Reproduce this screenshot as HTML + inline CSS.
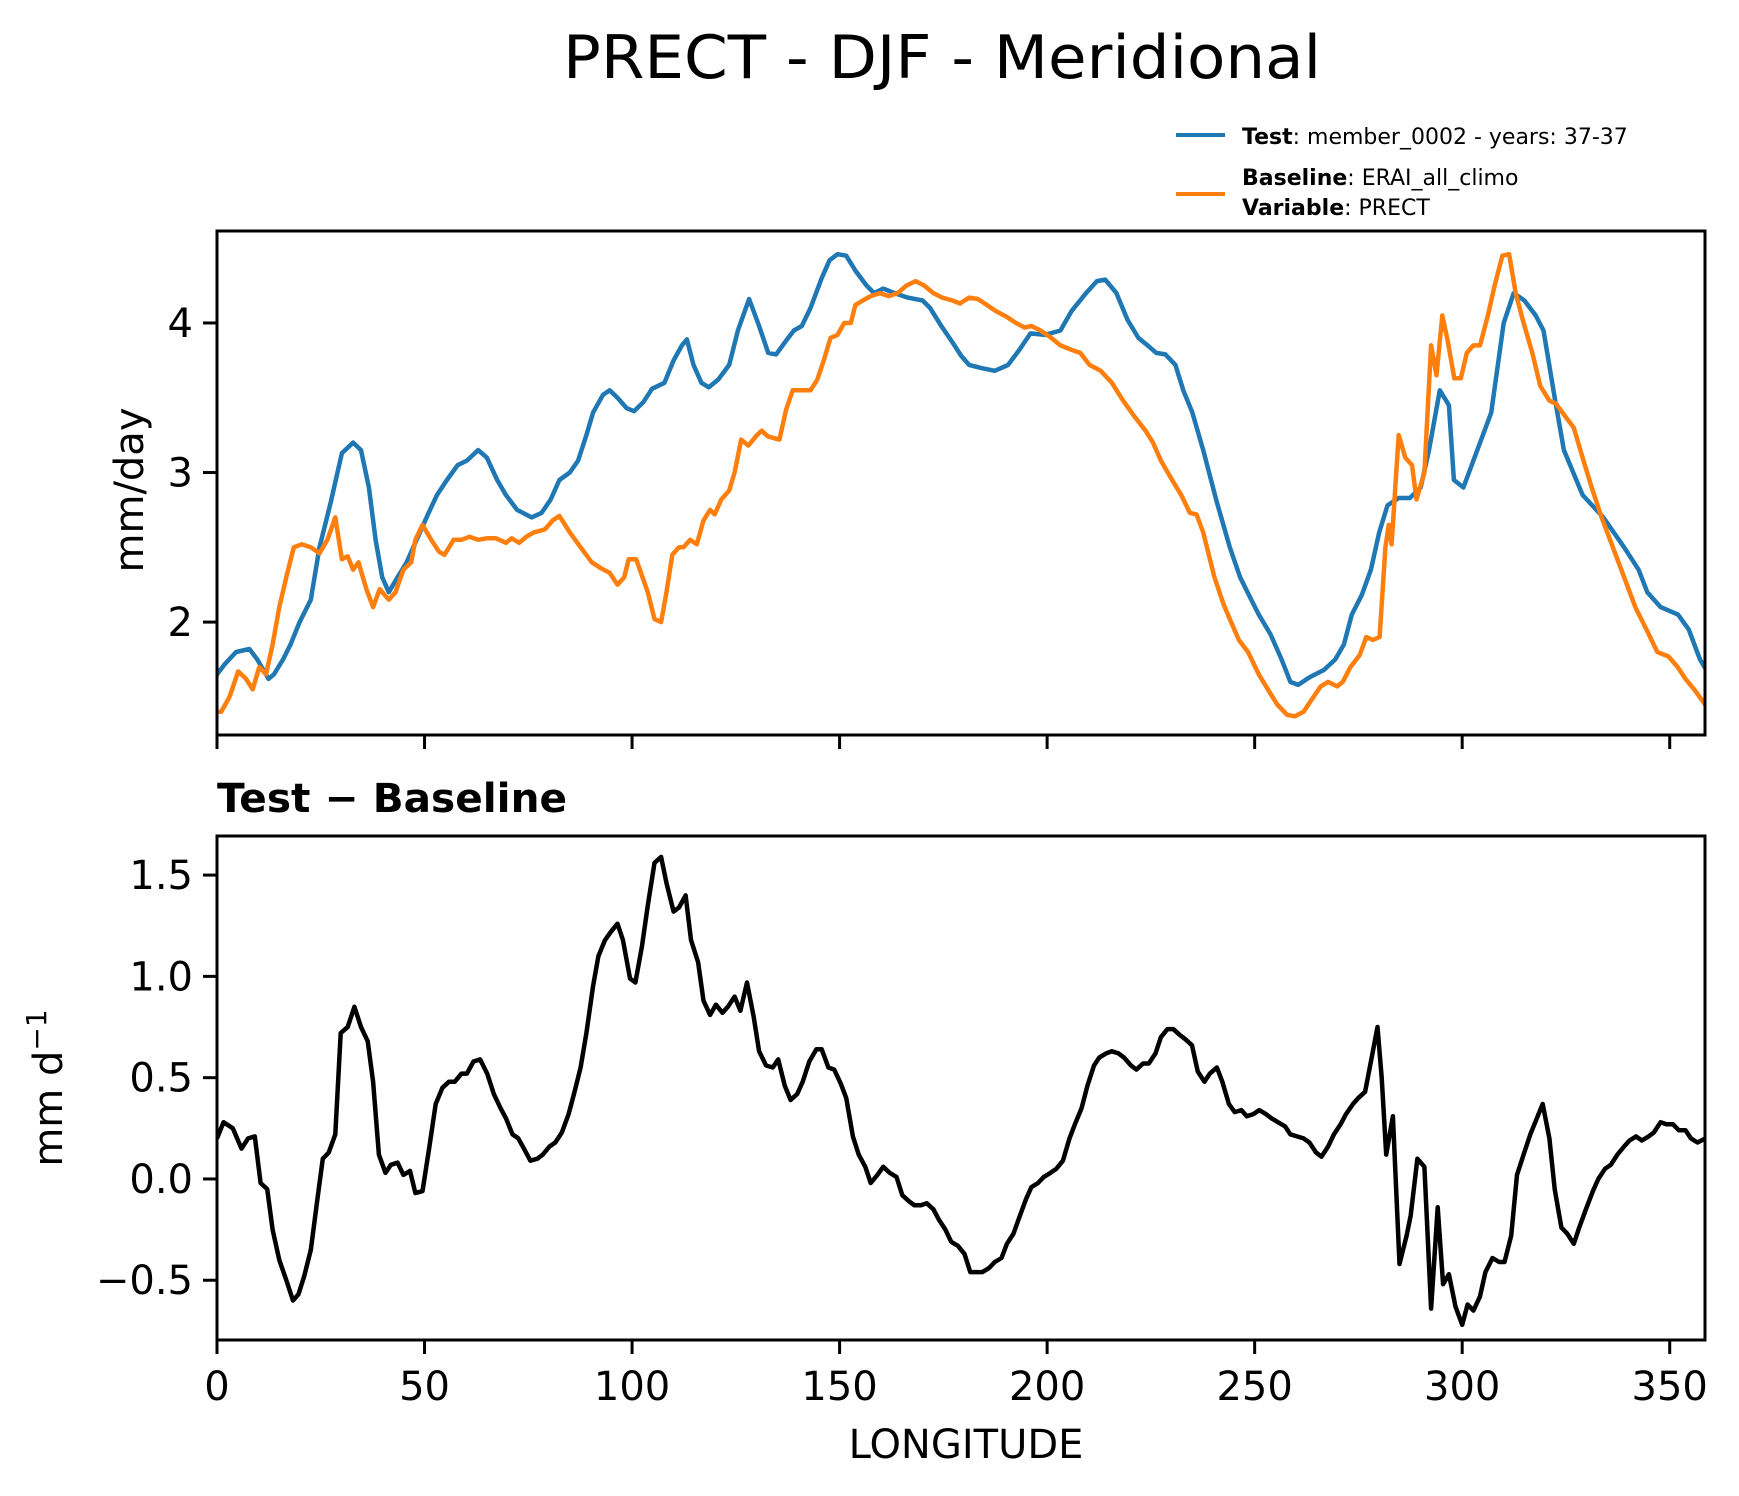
<!DOCTYPE html>
<html><head><meta charset="utf-8"><style>
html,body{margin:0;padding:0;background:#fff;}
svg{display:block;font-family:"DejaVu Sans","Liberation Sans",sans-serif;}
</style></head><body>
<svg id="chart" width="1739" height="1496" viewBox="0 0 1739 1496" xmlns="http://www.w3.org/2000/svg">
<rect x="0" y="0" width="1739" height="1496" fill="#fff"/>
<text x="942" y="78" font-size="60" text-anchor="middle" textLength="758" lengthAdjust="spacingAndGlyphs">PRECT - DJF - Meridional</text>
<g>
<line x1="1176" y1="135" x2="1225" y2="135" stroke="#1f77b4" stroke-width="4"/>
<text x="1242" y="144" font-size="22"><tspan font-weight="bold">Test</tspan>: member_0002 - years: 37-37</text>
<line x1="1176" y1="194" x2="1225" y2="194" stroke="#ff7f0e" stroke-width="4"/>
<text x="1242" y="185" font-size="22"><tspan font-weight="bold">Baseline</tspan>: ERAI_all_climo</text>
<text x="1242" y="215" font-size="22"><tspan font-weight="bold">Variable</tspan>: PRECT</text>
</g>
<g id="top"></g>
<g id="bot"></g>
<text transform="translate(143,490) rotate(-90)" font-size="40" text-anchor="middle">mm/day</text>
<text transform="translate(62,1088) rotate(-90)" font-size="40" text-anchor="middle">mm d<tspan font-size="28" dy="-16">−1</tspan></text>
<text x="217" y="812" font-size="40" font-weight="bold" textLength="350" lengthAdjust="spacingAndGlyphs">Test − Baseline</text>
<text x="966" y="1458" font-size="40" text-anchor="middle">LONGITUDE</text>
</svg>
<script>
const testLon=[0,1.9,4.6,7.8,9.7,12.4,13.7,15.9,17.7,19.9,22.6,24.7,27.4,30.1,32.8,34.7,36.6,38.2,39.8,41.4,43.5,45.7,48.1,50.8,53,55.4,58,60.2,62.9,65,67.5,69.6,72.3,75.8,78.2,80.4,82.5,85,87,89,90.6,93,94.6,96.5,98.7,100.5,102.7,104.8,107.8,110,112,113.2,114.8,116.7,118.5,120.7,123.4,125.5,128.2,130.6,132.8,134.7,136.8,139,140.9,143,145.7,147.6,149.5,151.6,153.8,156.5,158.3,160.5,163.2,166.4,170,171.8,174.5,177.2,179.3,181.2,183.9,187.4,190.6,193.3,196,199.5,203.2,205.9,209.4,212,214,216.7,219.4,222,224.2,226.3,228.5,230.9,232.8,235,237.6,240.9,244,246.5,249.2,251,253.8,256.5,258.6,260.5,263.2,266.7,269.4,271.5,273.4,275.8,278,280,282,284.7,287.4,290,292,294.6,296.8,298,300.3,307,310,312.4,315,317.7,319.6,322.3,324.5,329,334,339,342.5,344.6,347.8,352,354.6,357.3,359];
const testVal=[1.65,1.72,1.8,1.82,1.75,1.62,1.65,1.75,1.85,2.0,2.15,2.5,2.8,3.13,3.2,3.15,2.9,2.55,2.3,2.2,2.3,2.4,2.55,2.72,2.85,2.95,3.05,3.08,3.15,3.1,2.95,2.85,2.75,2.7,2.73,2.82,2.95,3.0,3.08,3.25,3.4,3.52,3.55,3.5,3.43,3.41,3.47,3.56,3.6,3.75,3.85,3.89,3.72,3.6,3.57,3.62,3.72,3.95,4.16,3.98,3.8,3.79,3.87,3.95,3.98,4.1,4.3,4.42,4.46,4.45,4.35,4.25,4.2,4.23,4.2,4.17,4.15,4.1,3.98,3.87,3.78,3.72,3.7,3.68,3.72,3.82,3.93,3.92,3.95,4.08,4.2,4.28,4.29,4.2,4.02,3.9,3.85,3.8,3.79,3.72,3.55,3.4,3.15,2.8,2.5,2.3,2.15,2.05,1.92,1.75,1.6,1.58,1.63,1.68,1.75,1.85,2.05,2.18,2.35,2.6,2.78,2.83,2.83,2.9,3.15,3.55,3.45,2.95,2.9,3.4,4.0,4.2,4.15,4.05,3.95,3.5,3.15,2.85,2.7,2.5,2.35,2.2,2.1,2.05,1.95,1.75,1.67];
const baseLon=[0,1,3,5.1,7,8.6,10.2,11.8,13.4,15,16.7,18.5,20.4,22.6,24.7,26.6,28.5,30.1,31.5,32.8,34.1,36,37.6,39.2,41.4,43,44.9,46.8,47.8,49.5,51.6,53.5,54.8,57,58.9,60.8,62.9,65,67.2,69.6,71,72.8,74.5,76.3,79,80.9,82.5,85,87.6,90.3,92.5,94.6,96.5,98.1,99.2,101,103.8,105.4,107,108.3,109.7,111.3,112.4,114,115.6,117.2,118.8,119.9,121.5,123.4,124.7,126.3,128,130.1,131.2,132.8,135.5,137.1,138.7,140.9,143,144.6,146.2,147.8,149.5,151.1,152.7,153.8,155.6,157.5,159.7,161.8,164,166.1,168.3,170.4,172.6,174.7,177.2,179,181.2,183.3,185.5,187.6,190.3,192.5,194.6,196.2,198.4,201,203.2,205.9,208,210.2,212.9,215.6,218.3,220.9,223.7,225.5,227.4,230.1,232.3,234.4,236,237.6,240.3,242.5,244,246.2,248.4,251,253.2,255.4,257.8,259.7,261.8,263.7,265.9,267.7,269.9,271.2,273.1,275.3,276.9,278.5,280.1,281.5,282.3,283,284.7,286.3,287.9,289,290.9,292.5,293.8,295.2,296.5,298.1,299.7,301.1,302.7,304.3,306.2,307.8,309.7,311.3,312.9,314.8,316.9,318.8,321,322.6,324.7,326.9,329,331.2,333.6,336.3,339,341.7,344.4,347,349.7,351.9,353.8,355.9,359];
const baseVal=[1.4,1.4,1.5,1.67,1.62,1.55,1.7,1.65,1.85,2.1,2.3,2.5,2.52,2.5,2.46,2.55,2.7,2.42,2.44,2.35,2.4,2.22,2.1,2.22,2.15,2.2,2.35,2.4,2.55,2.65,2.55,2.47,2.45,2.55,2.55,2.57,2.55,2.56,2.56,2.53,2.56,2.53,2.57,2.6,2.62,2.68,2.71,2.6,2.5,2.4,2.36,2.33,2.25,2.3,2.42,2.42,2.2,2.02,2.0,2.2,2.45,2.5,2.5,2.55,2.52,2.68,2.75,2.72,2.82,2.88,3.0,3.22,3.18,3.25,3.28,3.24,3.22,3.42,3.55,3.55,3.55,3.62,3.75,3.9,3.92,4.0,4.0,4.12,4.15,4.18,4.2,4.18,4.2,4.25,4.28,4.25,4.2,4.17,4.15,4.13,4.17,4.16,4.12,4.08,4.04,4.0,3.97,3.98,3.95,3.9,3.85,3.82,3.8,3.72,3.68,3.6,3.48,3.38,3.28,3.2,3.08,2.95,2.85,2.73,2.72,2.6,2.3,2.12,2.02,1.88,1.8,1.65,1.55,1.45,1.38,1.37,1.4,1.48,1.57,1.6,1.57,1.6,1.7,1.78,1.9,1.88,1.9,2.5,2.65,2.52,3.25,3.1,3.05,2.82,3.0,3.85,3.65,4.05,3.88,3.63,3.63,3.8,3.85,3.85,4.05,4.25,4.45,4.46,4.2,4.0,3.8,3.58,3.48,3.46,3.38,3.3,3.1,2.9,2.7,2.5,2.3,2.1,1.95,1.8,1.77,1.7,1.62,1.55,1.43];
const diffLon=[0,1.6,3.8,5.9,7.5,9.1,10.5,12.1,13.4,15,16.7,18.3,19.6,21,22.6,24.2,25.5,26.9,28.5,29.8,31.5,33.1,34.7,36.3,37.6,39,40.6,41.9,43.5,44.9,46.5,47.8,49.5,51.1,52.7,54.3,55.9,57.3,58.9,60.2,61.8,63.4,65.1,66.7,68.3,69.6,71.2,72.6,74.2,75.5,77.2,78.5,80.1,81.5,83.1,84.7,86,87.6,89,90.6,91.9,93.5,94.9,96.5,97.8,99.5,100.8,102.4,103.8,105.4,107,108.3,110,111.3,112.9,114.2,115.9,117.2,118.8,120.2,121.8,123.1,124.7,126.1,127.7,129.3,130.6,132.3,133.9,135.2,136.8,138.2,139.8,141.1,142.7,144.4,145.7,147.3,148.7,150.3,151.6,153.2,154.6,156.2,157.5,159.1,160.5,162.1,163.7,165.1,166.7,168,169.6,171,172.6,173.9,175.5,176.9,178.5,180.1,181.5,183.1,184.4,186,187.4,189,190.3,191.9,193.3,194.9,196.2,197.8,199.2,200.8,202.2,203.8,205.4,206.7,208.3,209.7,211.3,212.6,214.2,215.6,217.2,218.5,220.2,221.5,223.1,224.5,226.1,227.4,229,230.4,232,233.3,234.9,236.3,237.9,239.2,240.9,242.2,243.8,245.2,246.8,248.1,249.7,251.1,252.7,254,255.6,257.3,258.6,260.2,261.8,263.2,264.8,266.1,267.7,269.1,270.7,272,273.7,275,276.6,278.2,279.6,280.6,281.7,283.3,284.9,286.6,287.6,289.2,290.9,292.5,294.1,295.4,296.8,298.4,300,301.3,302.7,304.3,305.6,307.3,308.9,310.2,311.8,313.2,314.8,316.4,318,319.4,321,322.3,323.9,325.3,326.9,328.2,329.8,331.5,332.8,334.4,335.8,337.4,339,340.3,341.9,343.3,344.9,346.2,347.8,349.2,350.8,352.2,353.8,355.1,356.7,358.6];
const diffVal=[0.2,0.28,0.25,0.15,0.2,0.21,-0.02,-0.05,-0.25,-0.4,-0.5,-0.6,-0.57,-0.48,-0.35,-0.1,0.1,0.13,0.22,0.72,0.75,0.85,0.75,0.68,0.48,0.12,0.03,0.07,0.08,0.02,0.04,-0.07,-0.06,0.15,0.37,0.45,0.48,0.48,0.52,0.52,0.58,0.59,0.52,0.42,0.35,0.3,0.22,0.2,0.14,0.09,0.1,0.12,0.16,0.18,0.23,0.32,0.42,0.55,0.72,0.95,1.1,1.18,1.22,1.26,1.18,0.99,0.97,1.15,1.35,1.56,1.59,1.46,1.32,1.34,1.4,1.18,1.07,0.88,0.81,0.86,0.82,0.85,0.9,0.83,0.97,0.8,0.63,0.56,0.55,0.59,0.46,0.39,0.42,0.48,0.58,0.64,0.64,0.55,0.54,0.47,0.4,0.21,0.12,0.06,-0.02,0.02,0.06,0.03,0.01,-0.08,-0.11,-0.13,-0.13,-0.12,-0.15,-0.2,-0.25,-0.31,-0.33,-0.37,-0.46,-0.46,-0.46,-0.44,-0.41,-0.39,-0.32,-0.27,-0.19,-0.1,-0.04,-0.02,0.01,0.03,0.05,0.09,0.2,0.27,0.35,0.46,0.56,0.6,0.62,0.63,0.62,0.6,0.56,0.54,0.57,0.57,0.62,0.7,0.74,0.74,0.71,0.69,0.66,0.53,0.48,0.52,0.55,0.48,0.37,0.33,0.34,0.31,0.32,0.34,0.32,0.3,0.28,0.26,0.22,0.21,0.2,0.18,0.13,0.11,0.16,0.22,0.27,0.32,0.37,0.4,0.43,0.6,0.75,0.5,0.12,0.31,-0.42,-0.28,-0.18,0.1,0.06,-0.64,-0.14,-0.52,-0.47,-0.63,-0.72,-0.62,-0.65,-0.58,-0.46,-0.39,-0.41,-0.41,-0.28,0.02,0.12,0.22,0.3,0.37,0.2,-0.05,-0.24,-0.27,-0.32,-0.24,-0.15,-0.06,0.0,0.05,0.07,0.12,0.16,0.19,0.21,0.19,0.21,0.23,0.28,0.27,0.27,0.24,0.24,0.2,0.18,0.2];
const xTicks=[0,50,100,150,200,250,300,350];
const topYTicks=[2,3,4];
const botYTicks=[-0.5,0,0.5,1.0,1.5];
const botYTickLabels=["−0.5","0.0","0.5","1.0","1.5"];

const NS="http://www.w3.org/2000/svg";
const L=217,R=1705;
const X=v=>L+(v-0)*(R-L)/358.5;
const TOP={t:231,b:735,min:1.245,max:4.615};
const BOT={t:836,b:1340,min:-0.795,max:1.693};
const Y=(p,v)=>p.b-(v-p.min)*(p.b-p.t)/(p.max-p.min);
function mk(tag,attrs,parent){const e=document.createElementNS(NS,tag);for(const k in attrs)e.setAttribute(k,attrs[k]);parent.appendChild(e);return e;}
function panel(g,p,yt,ylab,showX){
  const cp=mk('clipPath',{id:g.id+'-clip'},g);
  mk('rect',{x:L,y:p.t,width:R-L,height:p.b-p.t},cp);
  xTicks.forEach((t,i)=>{
    const ln=mk('line',{x1:X(t),x2:X(t),y1:p.b,y2:p.b+14,stroke:'#000','stroke-width':3},g);
    
    
    if(showX){const tx=mk('text',{x:X(t),y:1400,'font-size':40,'text-anchor':'middle'},g);tx.textContent=String(t);
      
      }
  });
  yt.forEach((t,i)=>{
    const ln=mk('line',{x1:L-14,x2:L,y1:Y(p,t),y2:Y(p,t),stroke:'#000','stroke-width':3},g);
    
    
    const tx=mk('text',{x:L-24,y:Y(p,t)+14,'font-size':40,'text-anchor':'end'},g);tx.textContent=ylab[i];
    
    
  });
}
function series(g,p,lons,vals,color,name){
  const d=lons.map((l,i)=>(i?'L':'M')+X(l).toFixed(1)+','+Y(p,vals[i]).toFixed(1)).join(' ');
  const path=mk('path',{d:d,fill:'none',stroke:color,'stroke-width':4.5,'stroke-linejoin':'round','clip-path':'url(#'+g.id+'-clip)'},g);
  
  
}
const gt=document.getElementById('top'),gb=document.getElementById('bot');
panel(gt,TOP,topYTicks,topYTicks.map(String),false);
series(gt,TOP,testLon,testVal,'#1f77b4','test-line');
series(gt,TOP,baseLon,baseVal,'#ff7f0e','baseline-line');
panel(gb,BOT,botYTicks,botYTickLabels,true);
series(gb,BOT,diffLon,diffVal,'#000','difference-line');
[[gt,TOP,'top-axes-frame'],[gb,BOT,'bottom-axes-frame']].forEach(([g,p,n])=>{
  const r=mk('rect',{x:L,y:p.t,width:R-L,height:p.b-p.t,fill:'none',stroke:'#000','stroke-width':3},g);
  
  
});
</script>
</body></html>
